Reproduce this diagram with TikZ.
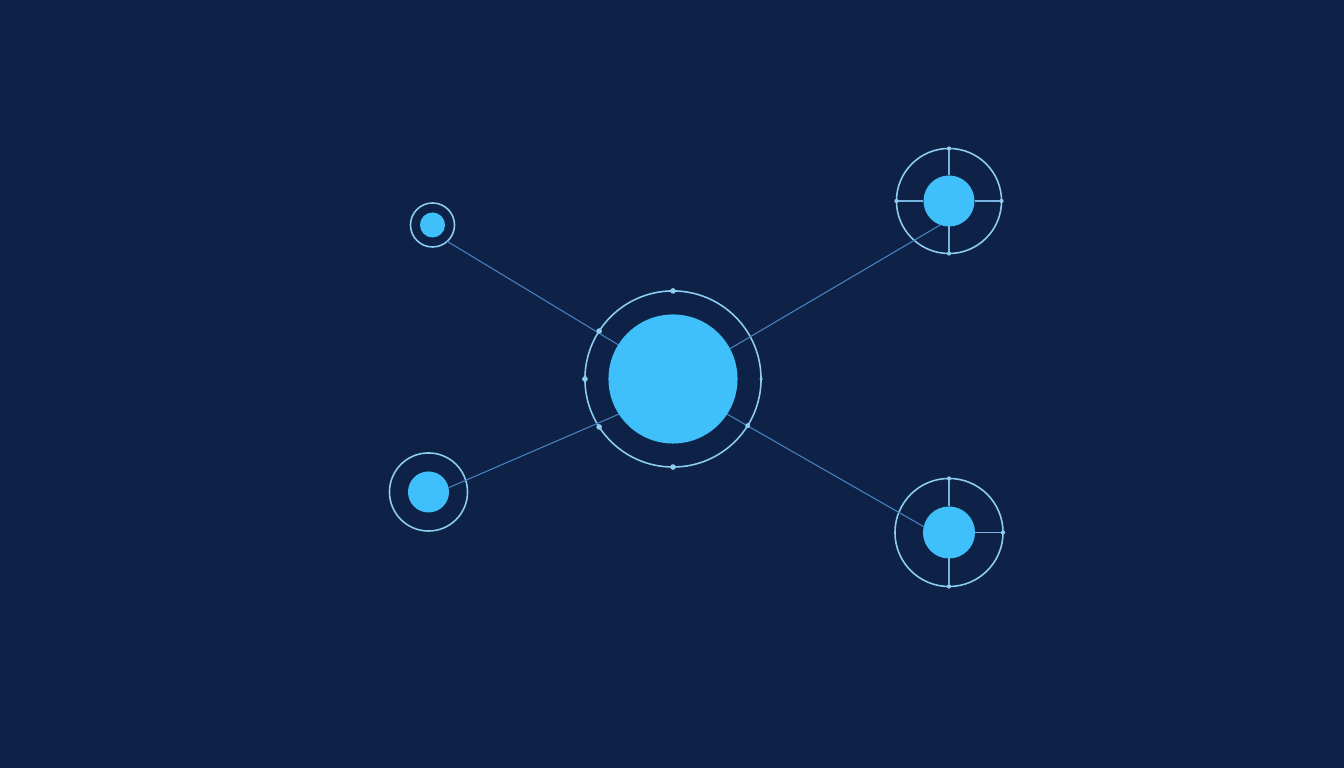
\documentclass[tikz,border=0pt]{standalone}
\usepackage{tikz}

\definecolor{navy}{RGB}{14,34,72}
\definecolor{skyfill}{RGB}{64,192,250}
\definecolor{rimline}{RGB}{140,205,240}
\definecolor{spokeline}{RGB}{120,180,225}
\definecolor{wireline}{RGB}{74,130,190}

\tikzset{
    core/.style={circle, fill=skyfill, inner sep=0pt, outer sep=0pt, minimum size=#1},
    rim/.style={circle, draw=rimline, line width=0.45pt, inner sep=0pt, outer sep=0pt, minimum size=#1},
    wire/.style={draw=wireline, line width=0.3pt},
    spoke/.style={draw=spokeline, line width=0.3pt}
}

\begin{document}
\begin{tikzpicture}[x=0.01cm, y=-0.01cm]

    \fill[navy] (0,0) rectangle (1344,768);
    \useasboundingbox (0,0) rectangle (1344,768);

    % hub
    \node[core=1.29cm] (hub) at (673,379) {};
    \node[rim=1.76cm] (hubring) at (673,379) {};

    % satellites
    \node[core=0.25cm] (ul) at (432.5,225) {};
    \node[rim=0.44cm] (ulring) at (432.5,225) {};

    \node[core=0.41cm] (ll) at (428.5,492) {};
    \node[rim=0.78cm] (llring) at (428.5,492) {};

    \node[core=0.51cm] (ur) at (949,201) {};
    \node[rim=1.05cm] (urring) at (949,201) {};

    \node[core=0.52cm] (lr) at (949,532.5) {};
    \node[rim=1.08cm] (lrring) at (949,532.5) {};

    % connectors
    \draw[wire] (ulring.-48) -- (hub.148);
    \draw[wire] (ll.12) -- (hub.213);
    \draw[wire] (ur.-110) -- (hub.28);
    \draw[wire] (lr.167) -- (hub.-33);

    % spokes
    \foreach \a in {0,90,180,270} {
        \draw[spoke] (ur.\a) -- (urring.\a);
        \fill[rimline] (urring.\a) circle (0.6pt);
    }
    \foreach \a in {0,90,270} {
        \draw[spoke] (lr.\a) -- (lrring.\a);
        \fill[rimline] (lrring.\a) circle (0.6pt);
    }

    % ticks on the hub ring
    \foreach \a in {90,180,270,147,213} {
        \fill[rimline] (hubring.\a) circle (0.8pt);
    }
    \fill[rimline] (hubring.0) circle (0.5pt);
    \fill[rimline] (hubring.-32) circle (0.7pt);

\end{tikzpicture}
\end{document}
